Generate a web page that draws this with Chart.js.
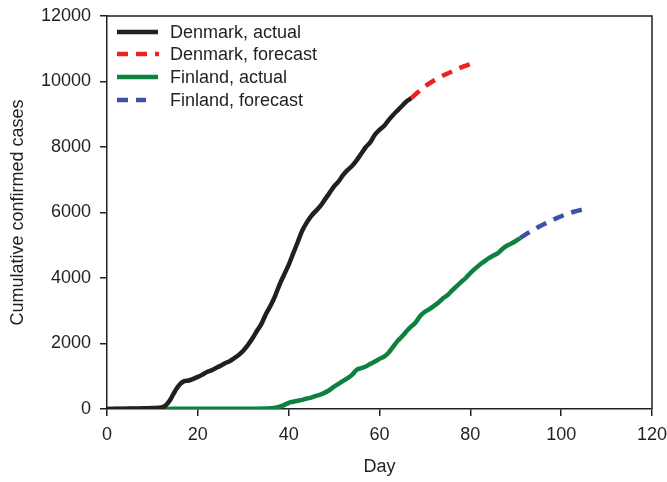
<!DOCTYPE html>
<html lang="en">
<head>
    <meta charset="UTF-8">
    <title>Cumulative confirmed cases, Denmark and Finland</title>
    <script src="https://cdn.jsdelivr.net/npm/chart.js"></script>
    <style>
        html, body { margin: 0; padding: 0; background: #fff; }
        #wrap { width: 667px; height: 482px; }
    </style>
</head>
<body>
    <div id="wrap"><canvas id="casesChart"></canvas></div>

    <script>
        // values
        const dkActualDays = [0, 2, 4, 6, 8, 10, 12, 13, 14, 15, 16, 17, 18, 19, 20, 21, 22, 23, 24, 25, 26, 27, 28, 29, 30,
            31, 32, 33, 34, 35, 36, 37, 38, 39, 40, 41, 42, 43, 44, 45, 46, 47, 48, 49, 50, 51, 52, 53, 54, 55, 56, 57, 58,
            59, 60, 61, 62, 63, 64, 65, 66, 67];
        const dkActualCases = [0, 5, 10, 15, 20, 30, 50, 120, 300, 550, 750, 850, 870, 920, 980, 1050, 1130, 1180, 1250, 1320,
            1400, 1460, 1550, 1650, 1780, 1950, 2150, 2380, 2600, 2900, 3150, 3450, 3800, 4100, 4400, 4750, 5100, 5450, 5700,
            5900, 6050, 6200, 6400, 6600, 6800, 6950, 7150, 7300, 7430, 7600, 7800, 8000, 8150, 8380, 8520, 8640, 8820, 8980,
            9120, 9260, 9400, 9490];
        const dkForecastDays = [67, 68, 70, 72, 74, 76, 78, 80, 81];
        const dkForecastCases = [9490, 9620, 9850, 10030, 10180, 10310, 10430, 10530, 10580];

        const fiActualDays = [0, 5, 10, 15, 20, 25, 30, 35, 36, 37, 38, 39, 40, 41, 42, 43, 44, 45, 46, 47, 48, 49, 50, 51, 52,
            53, 54, 55, 56, 57, 58, 59, 60, 61, 62, 63, 64, 65, 66, 67, 68, 69, 70, 71, 72, 73, 74, 75, 76, 77, 78, 79, 80, 81,
            82, 83, 84, 85, 86, 87, 88, 89, 90, 91];
        const fiActualCases = [0, 2, 3, 4, 5, 6, 8, 12, 20, 40, 70, 120, 190, 220, 250, 280, 320, 350, 400, 440, 500, 580, 680,
            770, 860, 940, 1050, 1200, 1250, 1300, 1380, 1450, 1530, 1600, 1720, 1900, 2080, 2220, 2380, 2520, 2650, 2850,
            2970, 3050, 3150, 3250, 3380, 3480, 3620, 3750, 3880, 4000, 4150, 4280, 4400, 4500, 4600, 4680, 4750, 4880, 4980,
            5050, 5130, 5220];
        const fiForecastDays = [91, 93, 95, 97, 99, 101, 103, 105];
        const fiForecastCases = [5220, 5400, 5560, 5700, 5830, 5940, 6030, 6100];

        const seriesNames = ['Denmark, actual', 'Denmark, forecast', 'Finland, actual', 'Finland, forecast'];

        const ink = '#231f20';
        const fontFamily = '"Liberation Sans", Arial, sans-serif';
        const pts = (days, cases) => days.map((d, i) => ({ x: d, y: cases[i] }));

        // legend sits inside the plot, top left, and the frame is closed on top and right
        const boxLegend = {
            id: 'boxLegend',
            afterDraw(chart) {
                const c = chart.ctx;
                const a = chart.chartArea;
                c.save();
                c.strokeStyle = ink;
                c.lineWidth = 1.5;
                c.beginPath();
                c.moveTo(a.left, a.top);
                c.lineTo(a.right, a.top);
                c.lineTo(a.right, a.bottom);
                c.stroke();

                const rows = [32, 54, 77, 100];
                const ends = [158, 159, 158, 146];
                c.font = '18px ' + fontFamily;
                c.textBaseline = 'middle';
                chart.data.datasets.forEach((ds, i) => {
                    c.strokeStyle = ds.borderColor;
                    c.lineWidth = ds.borderWidth;
                    c.setLineDash(ds.borderDash || []);
                    c.beginPath();
                    c.moveTo(117, rows[i]);
                    c.lineTo(ends[i], rows[i]);
                    c.stroke();
                    c.setLineDash([]);
                    c.fillStyle = ink;
                    c.fillText(seriesNames[i], 170, rows[i] + 1);
                });
                c.restore();
            }
        };

        const ctx = document.getElementById('casesChart').getContext('2d');
        const casesChart = new Chart(ctx, {
            type: 'line',
            data: {
                datasets: [
                    { label: seriesNames[0], data: pts(dkActualDays, dkActualCases), borderColor: ink, borderWidth: 4.5 },
                    { label: seriesNames[1], data: pts(dkForecastDays, dkForecastCases), borderColor: '#ed2024', borderWidth: 4.5, borderDash: [11, 8] },
                    { label: seriesNames[2], data: pts(fiActualDays, fiActualCases), borderColor: '#0e8140', borderWidth: 4.5 },
                    { label: seriesNames[3], data: pts(fiForecastDays, fiForecastCases), borderColor: '#3a53a4', borderWidth: 4.5, borderDash: [11, 8] }
                ]
            },
            options: {
                responsive: true,
                maintainAspectRatio: false,
                animation: false,
                layout: { padding: { top: 16, right: 15, left: 0, bottom: 0 } },
                elements: {
                    point: { radius: 0 },
                    line: { tension: 0.3, fill: false, borderCapStyle: 'butt' }
                },
                plugins: {
                    legend: { display: false },
                    tooltip: { enabled: false }
                },
                scales: {
                    x: {
                        type: 'linear',
                        min: 0,
                        max: 120,
                        afterFit: s => { s.height = 73; s.paddingLeft = 0; s.paddingRight = 0; },
                        border: { display: true, color: ink, width: 1.5 },
                        grid: { drawOnChartArea: false, drawTicks: true, tickLength: 7, color: ink, lineWidth: 1.5 },
                        ticks: {
                            stepSize: 20,
                            color: ink,
                            padding: 8,
                            maxRotation: 0,
                            font: { family: fontFamily, size: 18 }
                        },
                        title: {
                            display: true,
                            text: 'Day',
                            color: ink,
                            padding: { top: 8 },
                            font: { family: fontFamily, size: 18 }
                        }
                    },
                    y: {
                        min: 0,
                        max: 12000,
                        afterFit: s => { s.width = 107; s.paddingTop = 0; s.paddingBottom = 0; },
                        border: { display: true, color: ink, width: 1.5 },
                        grid: { drawOnChartArea: false, drawTicks: true, tickLength: 7, color: ink, lineWidth: 1.5 },
                        ticks: {
                            stepSize: 2000,
                            color: ink,
                            padding: 9,
                            callback: v => String(v),
                            font: { family: fontFamily, size: 18 }
                        },
                        title: {
                            display: true,
                            text: 'Cumulative confirmed cases',
                            color: ink,
                            padding: { top: 7, bottom: 4 },
                            font: { family: fontFamily, size: 18 }
                        }
                    }
                }
            },
            plugins: [boxLegend]
        });
    </script>
</body>
</html>
